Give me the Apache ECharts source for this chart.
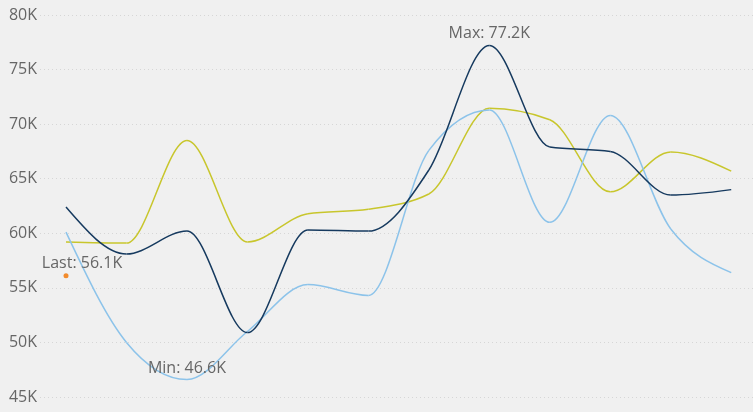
<!DOCTYPE html>
<html>
<head>
<meta charset="utf-8">
<script src="https://cdn.jsdelivr.net/npm/echarts@6/dist/echarts.min.js"></script>
<style>
html,body{margin:0;padding:0;background:#f0f0f0;}
#chart{width:753px;height:412px;}
</style>
</head>
<body>
<div id="chart"></div>
<script>
var categories = [0,1,2,3,4,5,6,7,8,9,10,11];
var seriesNavy   = [62400, 58100, 60200, 50900, 60300, 60200, 65800, 77200, 67900, 67500, 63500, 64000];
var seriesYellow = [59200, 59100, 68500, 59200, 61800, 62200, 63600, 71450, 70400, 63800, 67450, 65700];
var seriesBlue   = [60100, 50000, 46600, 51000, 55300, 54300, 67600, 71300, 61000, 70800, 60400, 56400];
var lastIndex = 0;
var lastValue = 56100;
var yTicks = {min: 45000, max: 80000, step: 5000};

function kfmt(v){ return (v/1000).toFixed(1) + 'K'; }
function pairs(arr){ return arr.map(function(v,i){ return [categories[i], v]; }); }
function argMax(a){ var k=0; for(var i=1;i<a.length;i++) if(a[i]>a[k]) k=i; return k; }
function argMin(a){ var k=0; for(var i=1;i<a.length;i++) if(a[i]<a[k]) k=i; return k; }

// monotone cubic (Fritsch-Carlson style) curve drawn through axis coordinates
function monotoneRender(color){
  return function(params, api){
    var i = params.dataIndexInside, n = params.dataInsideLength;
    if (i >= n - 1) return null;
    function pt(j){ return api.coord([api.value(0, j), api.value(1, j)]); }
    var P = [];
    for (var j = 0; j < n; j++) P.push(pt(j));
    function seg(j){ return (P[j+1][1]-P[j][1])/(P[j+1][0]-P[j][0]); }
    function sgn(v){ return v < 0 ? -1 : (v > 0 ? 1 : 0); }
    function tInner(j){
      var h0 = P[j][0]-P[j-1][0], h1 = P[j+1][0]-P[j][0];
      var s0 = seg(j-1), s1 = seg(j);
      var p = (s0*h1 + s1*h0)/(h0+h1);
      return (sgn(s0)+sgn(s1)) * Math.min(Math.abs(s0), Math.abs(s1), 0.5*Math.abs(p)) || 0;
    }
    function tan(j){
      if (n < 3) return seg(0);
      if (j === 0) return (3*seg(0) - tInner(1))/2;
      if (j === n-1) return (3*seg(n-2) - tInner(n-2))/2;
      return tInner(j);
    }
    var a = P[i], b = P[i+1], h = (b[0]-a[0])/3;
    return {
      type: 'bezierCurve',
      shape: {
        x1: a[0], y1: a[1], x2: b[0], y2: b[1],
        cpx1: a[0]+h, cpy1: a[1]+h*tan(i),
        cpx2: b[0]-h, cpy2: b[1]-h*tan(i+1)
      },
      style: {stroke: color, lineWidth: 1.5, fill: null}
    };
  };
}

var FONT = '"Open Sans", sans-serif';
var LABEL = {color: '#666', fontSize: 16, fontFamily: FONT};
var iMax = argMax(seriesNavy), iMin = argMin(seriesBlue);

var chart = echarts.init(document.getElementById('chart'));
chart.setOption({
  backgroundColor: '#f0f0f0',
  animation: false,
  grid: {left: 40, right: 0, top: 15, bottom: 15},
  xAxis: {
    type: 'value', min: -0.43, max: 11.36,
    axisLine: {show: false}, axisTick: {show: false},
    axisLabel: {show: false}, splitLine: {show: false}
  },
  yAxis: {
    type: 'value', min: yTicks.min, max: yTicks.max, interval: yTicks.step,
    axisLine: {show: false}, axisTick: {show: false},
    axisLabel: {
      margin: 3, color: '#666', fontSize: 16, fontFamily: FONT,
      formatter: function(v){ return (v/1000) + 'K'; }
    },
    splitLine: {lineStyle: {color: '#d6d6d6', type: [1, 3], width: 1}}
  },
  series: [
    {name: 'Yellow', type: 'custom', data: pairs(seriesYellow), encode: {x: 0, y: 1},
     renderItem: monotoneRender('#c8c62c')},
    {name: 'Blue', type: 'custom', data: pairs(seriesBlue), encode: {x: 0, y: 1},
     renderItem: monotoneRender('#8cc3ea')},
    {name: 'Navy', type: 'custom', data: pairs(seriesNavy), encode: {x: 0, y: 1},
     renderItem: monotoneRender('#163a5f')},
    {
      name: 'MaxLabel', type: 'scatter', data: [[categories[iMax], seriesNavy[iMax]]],
      symbolSize: 0, silent: true, itemStyle: {opacity: 1},
      label: Object.assign({show: true, position: 'top', distance: 4,
        formatter: function(p){ return 'Max: ' + kfmt(p.value[1]); }}, LABEL)
    },
    {
      name: 'MinLabel', type: 'scatter', data: [[categories[iMin], seriesBlue[iMin]]],
      symbolSize: 0, silent: true, itemStyle: {opacity: 1},
      label: Object.assign({show: true, position: 'top', distance: 3,
        formatter: function(p){ return 'Min: ' + kfmt(p.value[1]); }}, LABEL)
    },
    {
      name: 'Last', type: 'scatter', data: [[categories[lastIndex], lastValue]],
      symbol: 'circle', symbolSize: 5, itemStyle: {color: '#f28b2c', opacity: 1},
      label: Object.assign({show: true, position: 'top', distance: 2, offset: [16, 0],
        formatter: function(p){ return 'Last: ' + kfmt(p.value[1]); }}, LABEL)
    }
  ]
});
</script>
</body>
</html>
